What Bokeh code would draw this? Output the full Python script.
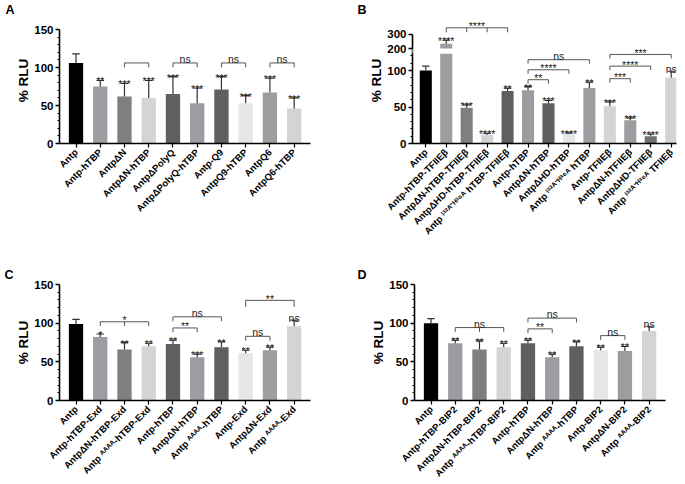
import math
from bokeh.plotting import figure
from bokeh.layouts import row, column
from bokeh.models import FixedTicker, BoxAnnotation, Title
from bokeh.core.properties import value
from bokeh.embed import file_html
from bokeh.resources import INLINE

FONT = "Liberation Sans"
TXT = "#222222"
BRK = "#555555"

# ---------------- Panel A ----------------
a_labels = ["Antp", "Antp-hTBP", "AntpΔN", "AntpΔN-hTBP", "AntpΔPolyQ",
            "AntpΔPolyQ-hTBP", "Antp-Q9", "AntpQ9-hTBP", "AntpQ6", "AntpQ6-hTBP"]
a_means = [106, 75, 62, 60, 65, 53, 71, 53, 67, 46]
a_errs = [118, 83, 79, 83, 88, 73, 88, 63, 86, 60]
a_sig = ["", "**", "***", "***", "***", "***", "***", "***", "***", "***"]
a_colors = ["#000000", "#9d9da1", "#7f7f7f", "#d4d4d4", "#5f5f5f",
            "#9d9da1", "#5f5f5f", "#e6e6e6", "#9d9da1", "#d4d4d4"]
# (first bar, last bar, label, height, intermediate ticks, drop px)
a_brackets = [(3, 4, "", 106, [], 4.5), (5, 6, "ns", 106, [], 4.5),
              (7, 8, "ns", 106, [], 4.5), (9, 10, "ns", 106, [], 4.5)]

# ---------------- Panel B ----------------
b_labels = ["Antp", "Antp-hTBP-TFIIEβ", "AntpΔN-hTBP-TFIIEβ", "AntpΔHD-hTBP-TFIIEβ",
            "Antp ᴵ³²ᴬ⁻ᴴ³⁶ᴬ hTBP-TFIIEβ", "Antp-hTBP", "AntpΔN-hTBP", "AntpΔHD-hTBP",
            "Antp ᴵ³²ᴬ⁻ᴴ³⁶ᴬ hTBP", "Antp-TFIIEβ", "AntpΔN-hTFIIEβ", "AntpΔHD-TFIIEβ",
            "Antp ᴵ³²ᴬ⁻ᴴ³⁶ᴬ TFIIEβ"]
b_means = [100, 233, 49, 12, 72, 73, 55, 13, 76, 51, 32, 10, 90]
b_errs = [106, 258, 53, 14, 76, 78, 59, 14.5, 84, 57, 35, 13, 99]
b_sig = ["", "****", "***", "****", "**", "**", "***", "****", "**", "***", "***", "****", "ns"]
b_colors = ["#000000", "#9d9da1", "#7f7f7f", "#d4d4d4", "#5f5f5f", "#9d9da1", "#5f5f5f",
            "#e6e6e6", "#9d9da1", "#d4d4d4", "#9d9da1", "#707070", "#d4d4d4"]
b_brackets = [(2, 5, "****", 158.5, [3, 4], 4.5),
              (6, 9, "ns", 114.8, [], 4), (6, 8, "****", 101, [], 4), (6, 7, "**", 87.4, [], 4),
              (10, 13, "***", 122, [], 4), (10, 12, "****", 106, [], 4), (10, 11, "***", 88.8, [], 4)]
b_yticks = [0, 50, 100, 200, 300]
# broken axis: lower part linear up to b_break_lo; upper part 200..300 compressed
b_break_lo = 123
b_up_base = 130
b_up_scale = 0.2


def b_disp(v):
    return v if v <= b_break_lo else b_up_base + (v - 200) * b_up_scale


# ---------------- Panel C ----------------
c_labels = ["Antp", "Antp-hTBP-Exd", "AntpΔN-hTBP-Exd", "Antp ᴬᴬᴬᴬ-hTBP-Exd", "Antp-hTBP",
            "AntpΔN-hTBP", "Antp ᴬᴬᴬᴬ-hTBP", "Antp-Exd", "AntpΔN-Exd", "Antp ᴬᴬᴬᴬ-Exd"]
c_means = [99, 82, 66, 70, 73, 56, 69, 61, 65, 96]
c_errs = [105, 86, 75, 74, 78, 60, 76, 65, 69, 104]
c_sig = ["", "*", "**", "**", "**", "***", "**", "**", "**", "ns"]
c_colors = a_colors
c_brackets = [(2, 4, "*", 101.8, [3], 4.3), (5, 7, "ns", 108.2, [], 4.3),
              (5, 6, "**", 93.8, [], 4.3), (8, 10, "**", 129.5, [], 6.5),
              (8, 9, "ns", 83, [], 4.3)]

# ---------------- Panel D ----------------
d_labels = ["Antp", "Antp-hTBP-BIP2", "AntpΔN-hTBP-BIP2", "Antp ᴬᴬᴬᴬ-hTBP-BIP2", "Antp-hTBP",
            "AntpΔN-hTBP", "Antp ᴬᴬᴬᴬ-hTBP", "Antp-BIP2", "AntpΔN-BIP2", "Antp ᴬᴬᴬᴬ-BIP2"]
d_means = [100, 74, 66, 69, 74, 56, 70, 65, 64, 90]
d_errs = [106, 78, 77, 74, 78, 60, 76, 69, 70, 96]
d_sig = ["", "**", "**", "**", "**", "**", "**", "**", "**", "ns"]
d_colors = a_colors
d_brackets = [(2, 4, "ns", 94.3, [3], 4.3), (5, 7, "ns", 106.5, [], 4.3),
              (5, 6, "**", 92.6, [], 4.3), (8, 9, "ns", 83.9, [], 4.3)]


def make_panel(labels, means, errs, sigs, colors, brackets,
               xr, ytop, fw, fh, bl, br, bt, bb, disp=None):
    if disp is None:
        disp = lambda v: v
    n = len(labels)
    xs = list(range(1, n + 1))
    ppu_x = fw / (xr[1] - xr[0])
    ppu_y = fh / ytop
    p = figure(frame_width=fw, frame_height=fh, x_range=xr, y_range=(0, ytop),
               output_backend="svg", toolbar_location=None,
               min_border_left=bl, min_border_right=br, min_border_top=bt, min_border_bottom=bb)
    p.outline_line_color = None
    p.grid.visible = False
    p.background_fill_color = "white"
    p.border_fill_color = "white"

    bw = 0.59
    broken = [disp(m) != m for m in means]
    lows = [b_break_lo if b else m for m, b in zip(means, broken)]
    p.vbar(x=xs, top=lows, bottom=0, width=bw, fill_color=colors, line_color=None)
    up_x = [x for x, b in zip(xs, broken) if b]
    up_top = [disp(m) for m, b in zip(means, broken) if b]
    up_col = [c for c, b in zip(colors, broken) if b]
    if up_x:
        p.vbar(x=up_x, top=up_top, bottom=b_up_base, width=bw, fill_color=up_col, line_color=None)

    # error bars (upper only)
    cap = 7.5 / ppu_x / 2
    tops = [disp(m) for m in means]
    etop = [disp(e) for e in errs]
    p.segment(x0=xs, y0=tops, x1=xs, y1=etop, line_color="#333333", line_width=1.2)
    p.segment(x0=[x - cap for x in xs], y0=etop, x1=[x + cap for x in xs], y1=etop,
              line_color="#333333", line_width=1.2)

    # significance over bars
    sx = [x for x, s in zip(xs, sigs) if s.startswith("*")]
    sy = [disp(e) for e, s in zip(errs, sigs) if s.startswith("*")]
    st = [s for s in sigs if s.startswith("*")]
    p.text(x=sx, y=sy, text=st, text_align="center", text_baseline="alphabetic",
           text_font=value(FONT), text_font_size="10.5px", text_color=TXT, y_offset=1)
    nx = [x for x, s in zip(xs, sigs) if s == "ns"]
    ny = [disp(e) for e, s in zip(errs, sigs) if s == "ns"]
    if nx:
        p.text(x=nx, y=ny, text=["ns"] * len(nx), text_align="center", text_baseline="alphabetic",
               text_font=value(FONT), text_font_size="10.5px", text_color=TXT, y_offset=-2)

    # brackets
    mxs, mys = [], []
    bstar_x, bstar_y, bstar_t = [], [], []
    bns_x, bns_y = [], []
    for (i, j, lab, y, mids, drop_px) in brackets:
        d = drop_px / ppu_y
        mxs.append([i, i, j, j])
        mys.append([y - d, y, y, y - d])
        for m in mids:
            mxs.append([m, m])
            mys.append([y, y - d])
        if lab.startswith("*"):
            bstar_x.append((i + j) / 2); bstar_y.append(y); bstar_t.append(lab)
        elif lab == "ns":
            bns_x.append((i + j) / 2); bns_y.append(y)
    p.multi_line(xs=mxs, ys=mys, line_color=BRK, line_width=1)
    if bstar_x:
        p.text(x=bstar_x, y=bstar_y, text=bstar_t, text_align="center", text_baseline="alphabetic",
               text_font=value(FONT), text_font_size="10.5px", text_color=TXT, y_offset=-1.5)
    if bns_x:
        p.text(x=bns_x, y=bns_y, text=["ns"] * len(bns_x), text_align="center",
               text_baseline="alphabetic", text_font=value(FONT), text_font_size="10.5px",
               text_color=TXT, y_offset=-4)

    # x axis
    xa = p.xaxis[0]
    xa.ticker = FixedTicker(ticks=xs, minor_ticks=[])
    xa.major_label_overrides = {x: lab for x, lab in zip(xs, labels)}
    xa.major_label_orientation = math.pi / 4
    xa.major_label_text_font = FONT
    xa.major_label_text_font_style = "bold"
    xa.major_label_text_font_size = "9.5px"
    xa.major_label_text_color = "black"
    xa.major_label_standoff = 3
    xa.axis_line_width = 1.6
    xa.axis_line_color = "black"
    xa.major_tick_out = 4
    xa.major_tick_in = 0
    xa.major_tick_line_width = 1.2
    xa.minor_tick_out = 0
    return p, p.yaxis[0]


def style_y(p, ya, ticks, minor, bounds, label_offset, overrides=None):
    ya.ticker = FixedTicker(ticks=ticks, minor_ticks=minor)
    ya.bounds = bounds
    if overrides:
        ya.major_label_overrides = overrides
    ya.axis_line_width = 1.6
    ya.axis_line_color = "black"
    ya.major_tick_out = 4
    ya.major_tick_in = 0
    ya.major_tick_line_width = 1.4
    ya.minor_tick_out = 2
    ya.minor_tick_in = 0
    ya.minor_tick_line_width = 1
    ya.major_label_text_font = FONT
    ya.major_label_text_font_style = "bold"
    ya.major_label_text_font_size = "11.5px"
    ya.major_label_text_color = "black"
    ya.major_label_standoff = 2
    # y axis title placed as a side title so that it can be shifted along the axis
    p.add_layout(Title(text="% RLU", text_font=FONT, text_font_style="bold",
                       text_font_size="13.5px", align="center", offset=label_offset,
                       standoff=2, text_color="black"), "left")


def add_letter(p, text, offset, standoff):
    p.add_layout(Title(text=text, text_font=FONT, text_font_style="bold",
                       text_font_size="12.5px", align="left", offset=offset,
                       standoff=standoff, text_color="black"), "above")


minor150 = [v for v in range(10, 150, 10) if v % 50]

# Row 1: frames from page y 17 to 143
# Panel A  (figure at page 0..342)
pA, yA = make_panel(a_labels, a_means, a_errs, a_sig, a_colors, a_brackets,
                    (0.319, 10.674), 126 / 0.76, 251, 126, 59, 32, 17, 105)
style_y(pA, yA, [0, 50, 100, 150], minor150, (0, 150), -6)
add_letter(pA, "A", 5 - 59, 1)

# Panel B  (figure at page 342..685)
pB, yB = make_panel(b_labels, b_means, b_errs, b_sig, b_colors, b_brackets,
                    (0.35, 13.26), 126 / 0.7299, 264, 126, 70, 9, 17, 105, disp=b_disp)
b_tick_pos = [b_disp(v) for v in b_yticks]
style_y(pB, yB, b_tick_pos, [v for v in range(10, 121, 10) if v % 50],
        (0, b_disp(300)), -5, overrides={b_disp(v): str(v) for v in b_yticks})
pB.add_layout(BoxAnnotation(left=0.35 - 1.2, right=0.35 + 0.04, bottom=b_break_lo + 0.8,
                            top=b_up_base - 0.8, fill_color="white", fill_alpha=1,
                            line_color=None, level="overlay"))
add_letter(pB, "B", 357 - 412, 1)

# Row 2: frames from page y 284 to 400
# Panel C  (figure at page 0..342)
pC, yC = make_panel(c_labels, c_means, c_errs, c_sig, c_colors, c_brackets,
                    (0.319, 10.674), 150, 251, 116, 59, 32, 36, 84)
style_y(pC, yC, [0, 50, 100, 150], minor150, (0, 150), 2)
add_letter(pC, "C", 4 - 59, 6)

# Panel D  (figure at page 342..685)
pD, yD = make_panel(d_labels, d_means, d_errs, d_sig, d_colors, d_brackets,
                    (0.319, 10.674), 150, 251, 116, 72, 20, 36, 84)
style_y(pD, yD, [0, 50, 100, 150], minor150, (0, 150), 2)
add_letter(pD, "D", 357 - 414, 6)

layout = column(row(pA, pB), row(pC, pD))
open("out.html", "w").write(file_html(layout, INLINE))
